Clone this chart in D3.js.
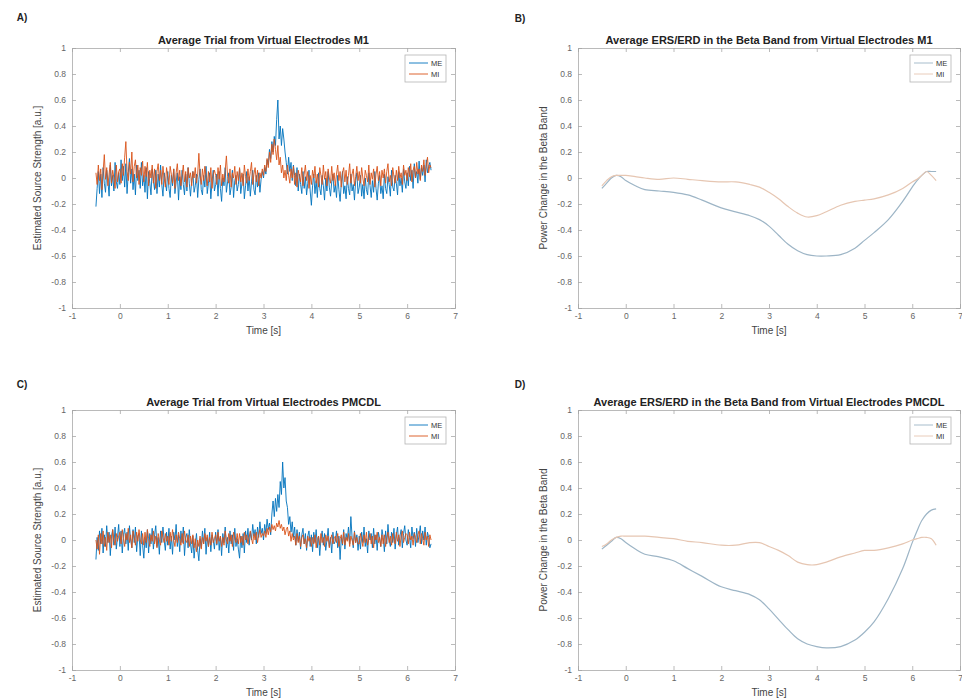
<!DOCTYPE html>
<html>
<head>
<meta charset="utf-8">
<script src="https://cdn.jsdelivr.net/npm/d3@7"></script>
<style>
  html, body { margin: 0; padding: 0; background: #fff; }
  svg { display: block; font-family: "Liberation Sans", Arial, sans-serif; }
</style>
</head>
<body>
<svg id="fig" width="962" height="698"></svg>
<script>
// Average trials (virtual electrode source strength), sampled every 25 ms from -0.5 s to 6.5 s
const trialStart = -0.5;
const trialStep = 0.025;

const m1ME = [
  -0.22,-0.08,0.05,-0.12,0.03,-0.15,0.08,-0.04,-0.11,0.06,-0.02,-0.14,0.10,-0.06,0.02,-0.10,0.12,-0.03,-0.08,0.04,
  -0.05,0.14,-0.02,0.09,-0.07,0.11,-0.12,0.04,0.15,-0.04,0.07,-0.09,0.03,-0.13,0.10,-0.02,0.06,-0.08,0.12,-0.06,
  0.02,-0.11,0.08,-0.16,0.05,-0.04,-0.13,0.07,-0.02,-0.09,0.06,-0.12,0.03,-0.07,0.10,-0.05,-0.14,0.04,-0.03,-0.10,
  0.05,-0.08,-0.15,0.02,-0.06,0.07,-0.12,-0.03,0.04,-0.17,0.01,-0.09,0.06,-0.05,-0.13,0.03,-0.10,0.08,-0.04,-0.14,
  -0.02,0.05,-0.11,-0.06,0.03,-0.15,-0.01,0.07,-0.09,-0.13,0.02,-0.07,0.09,-0.12,-0.04,0.04,-0.16,-0.03,0.06,-0.10,
  -0.05,0.03,-0.14,0.05,-0.08,-0.18,0.00,-0.06,0.08,-0.11,-0.03,0.04,-0.13,-0.07,0.06,-0.15,-0.02,0.02,-0.10,-0.05,
  0.07,-0.12,-0.04,0.03,-0.16,-0.06,0.05,-0.10,0.01,-0.14,-0.03,0.06,-0.09,-0.13,0.02,-0.07,0.04,-0.11,-0.01,0.05,
  0.00,0.08,0.03,0.14,0.10,0.22,0.15,0.28,0.20,0.32,0.25,0.45,0.60,0.30,0.40,0.25,0.38,0.30,0.20,0.12,
  0.03,0.16,0.05,0.12,-0.02,0.10,0.02,-0.06,0.08,-0.10,0.03,-0.05,-0.12,0.05,-0.08,0.01,-0.13,-0.04,0.06,-0.10,
  -0.21,-0.06,0.03,-0.12,-0.02,-0.15,0.04,-0.08,-0.13,0.02,-0.06,-0.17,0.00,-0.10,0.05,-0.07,-0.14,-0.03,0.03,-0.11,
  -0.05,-0.15,0.02,-0.09,-0.18,-0.04,0.05,-0.12,-0.06,-0.16,0.01,-0.08,-0.13,0.03,-0.10,-0.05,-0.17,-0.02,0.04,-0.12,
  -0.07,0.02,-0.14,-0.05,-0.16,0.00,-0.09,-0.13,0.04,-0.06,-0.15,-0.02,-0.11,0.05,-0.08,-0.17,-0.04,0.02,-0.12,-0.06,
  -0.16,0.03,-0.08,-0.12,0.01,-0.05,-0.14,0.06,-0.07,-0.10,0.02,-0.04,-0.13,0.05,-0.06,0.00,-0.11,0.07,-0.03,-0.08,
  0.04,-0.06,0.09,-0.02,0.06,-0.08,0.11,0.00,0.05,-0.04,0.13,-0.01,0.08,0.02,0.10,-0.03,0.14,0.04,0.09,0.12,
  0.06
];
const m1MI = [
  0.04,-0.05,0.10,-0.02,0.07,-0.09,0.05,0.18,-0.01,0.08,-0.06,0.03,0.12,-0.04,0.06,0.00,-0.08,0.10,-0.03,0.05,
  0.07,-0.04,0.11,0.02,0.16,0.28,0.05,-0.02,0.12,0.03,0.20,-0.03,0.09,0.14,0.00,0.10,-0.05,0.08,0.02,0.13,
  -0.03,0.09,0.01,0.12,-0.06,0.06,0.00,0.10,-0.04,0.07,-0.08,0.05,0.11,-0.02,0.06,-0.05,0.09,0.00,-0.07,0.08,
  0.01,-0.05,0.09,0.03,-0.04,0.07,-0.08,0.04,0.11,-0.02,0.06,-0.06,0.02,0.10,-0.03,0.05,-0.07,0.08,0.00,0.04,
  -0.06,0.05,0.00,0.08,-0.04,0.03,0.19,0.02,-0.05,0.07,-0.02,0.09,0.01,-0.06,0.05,-0.03,0.08,-0.08,0.03,0.06,
  0.02,-0.05,0.08,-0.01,0.10,-0.06,0.03,-0.03,0.06,0.17,0.01,-0.04,0.07,-0.07,0.04,0.00,0.09,-0.05,0.05,-0.02,
  0.08,-0.03,0.04,-0.06,0.10,0.01,-0.04,0.07,-0.02,0.05,0.12,-0.05,0.03,0.08,-0.03,0.06,-0.06,0.04,0.00,0.07,
  0.02,0.10,0.05,0.15,0.08,0.20,0.12,0.26,0.18,0.30,0.22,0.14,0.25,0.10,0.16,0.04,0.10,0.00,0.06,-0.02,
  0.10,0.02,-0.04,0.07,0.00,0.09,-0.05,0.04,-0.07,0.06,0.01,-0.03,0.08,-0.06,0.03,0.10,-0.02,0.05,-0.08,0.02,
  -0.05,0.06,0.00,0.09,-0.04,0.03,-0.07,0.08,0.02,-0.05,0.10,-0.01,0.05,-0.06,0.07,0.00,-0.04,0.09,-0.02,0.04,
  -0.06,0.03,0.10,-0.02,0.05,-0.07,0.04,0.08,-0.03,0.06,-0.05,0.02,0.11,-0.04,0.03,0.07,-0.06,0.01,0.09,-0.02,
  0.05,-0.04,0.08,0.00,-0.06,0.06,0.02,-0.03,0.10,-0.05,0.04,-0.01,0.07,-0.07,0.03,0.09,-0.02,0.05,-0.06,0.06,
  0.00,0.07,-0.04,0.05,0.11,-0.03,0.02,-0.06,0.08,0.01,-0.04,0.06,-0.02,0.09,0.00,0.04,-0.05,0.10,0.02,0.06,
  -0.02,0.08,0.01,0.11,-0.03,0.06,0.09,0.00,0.12,0.03,0.07,-0.02,0.10,0.05,0.14,0.02,0.09,0.16,0.04,0.10,
  0.08
];
const pmcME = [
  -0.15,0.02,-0.08,0.07,-0.03,0.09,-0.10,0.04,-0.05,0.11,-0.02,0.06,-0.12,0.03,0.08,-0.04,0.10,-0.07,0.02,0.12,
  -0.05,0.07,-0.10,0.04,0.09,-0.03,0.06,-0.08,0.11,0.00,-0.06,0.08,-0.02,0.10,-0.09,0.03,0.05,-0.12,0.07,-0.04,
  -0.14,0.02,-0.06,0.08,-0.10,0.05,-0.03,0.09,-0.07,0.04,0.11,-0.05,0.02,-0.11,0.07,-0.02,0.10,0.00,-0.08,0.06,
  -0.04,0.09,-0.07,0.03,-0.11,0.06,0.00,0.12,-0.05,0.04,-0.09,0.07,-0.02,0.10,-0.12,0.02,0.05,-0.06,0.08,-0.03,
  -0.10,0.03,-0.14,-0.04,0.05,-0.08,-0.16,0.01,-0.06,0.07,-0.03,0.09,-0.11,0.02,-0.05,0.06,-0.09,0.04,0.00,-0.07,
  0.06,-0.04,0.08,-0.08,0.03,-0.12,0.05,-0.02,0.10,-0.06,0.02,-0.10,0.07,-0.03,0.04,-0.08,0.09,-0.05,0.01,-0.07,
  -0.14,0.03,-0.06,0.05,-0.10,0.07,-0.02,0.09,-0.04,0.06,0.00,0.12,0.03,0.08,-0.03,0.10,0.02,0.14,0.05,0.09,
  0.00,0.12,0.05,0.16,0.08,0.13,0.04,0.20,0.30,0.18,0.32,0.22,0.35,0.25,0.45,0.35,0.60,0.40,0.48,0.30,
  0.25,0.12,0.18,0.06,0.14,0.02,0.10,-0.04,0.08,-0.01,0.06,-0.07,0.04,0.09,-0.03,0.05,-0.08,0.03,0.07,-0.05,
  0.04,-0.09,0.06,-0.02,0.08,-0.06,0.03,-0.12,0.01,0.07,-0.04,0.05,-0.08,0.00,0.09,-0.05,0.02,-0.10,0.06,-0.03,
  -0.01,0.07,-0.06,0.03,-0.15,0.02,-0.04,0.08,-0.07,0.05,0.00,0.10,-0.03,0.18,0.02,-0.06,0.07,-0.02,0.04,-0.08,
  0.03,-0.07,0.06,-0.02,0.10,-0.05,0.01,-0.10,0.07,0.00,0.05,-0.06,0.09,-0.03,0.04,-0.08,0.06,0.01,-0.05,0.08,
  0.02,-0.09,0.07,-0.03,0.12,0.00,-0.05,0.06,-0.02,0.09,-0.07,0.04,0.10,-0.04,0.03,0.08,-0.06,0.05,0.11,0.00,
  -0.04,0.08,0.02,-0.06,0.10,0.01,0.06,-0.05,0.09,-0.02,0.04,0.11,-0.03,0.07,0.00,0.10,-0.04,0.06,0.02,-0.06,
  -0.03
];
const pmcMI = [
  0.00,-0.07,0.04,-0.11,0.05,-0.03,0.07,-0.05,0.02,-0.08,0.06,-0.02,0.04,-0.06,0.08,0.00,-0.04,0.05,-0.01,0.03,
  0.06,-0.03,0.08,0.01,-0.05,0.05,0.00,0.09,-0.02,0.04,-0.06,0.07,0.02,-0.04,0.06,-0.01,0.08,0.00,-0.03,0.05,
  -0.04,0.06,-0.02,0.08,0.01,-0.05,0.04,-0.01,0.07,-0.03,0.03,-0.06,0.05,0.00,-0.04,0.07,0.02,-0.02,0.05,-0.01,
  0.03,-0.04,0.06,-0.01,0.08,0.00,-0.05,0.04,-0.02,0.06,0.01,-0.04,0.05,-0.03,0.07,0.00,-0.02,0.04,-0.05,0.03,
  -0.03,0.04,-0.06,0.01,-0.09,0.00,-0.05,0.03,-0.07,0.02,-0.03,0.05,-0.01,0.04,-0.05,0.02,-0.04,0.06,-0.02,0.01,
  0.04,-0.03,0.06,-0.01,0.03,-0.05,0.02,-0.04,0.07,0.00,-0.03,0.05,-0.01,0.04,-0.05,0.06,0.01,-0.02,0.05,-0.03,
  0.05,-0.02,0.03,-0.04,0.06,0.00,0.04,-0.03,0.02,0.07,0.01,-0.03,0.05,0.00,0.06,-0.02,0.04,0.08,0.02,0.05,
  0.03,0.07,0.02,0.09,0.04,0.10,0.06,0.12,0.08,0.11,0.07,0.13,0.10,0.15,0.09,0.12,0.07,0.10,0.04,0.08,
  0.10,0.03,0.07,-0.01,0.05,0.00,0.03,-0.04,0.05,-0.02,0.03,-0.05,0.02,0.04,-0.03,0.01,-0.06,0.03,-0.01,0.02,
  -0.05,0.02,-0.03,0.04,-0.06,0.01,0.03,-0.04,0.05,-0.02,0.02,-0.05,0.04,-0.01,0.03,-0.06,0.00,0.04,-0.03,0.01,
  0.03,-0.02,0.05,-0.05,0.01,0.04,-0.03,0.06,-0.04,0.02,-0.01,0.05,-0.05,0.03,0.00,-0.04,0.06,-0.02,0.02,-0.03,
  -0.03,0.05,0.00,-0.05,0.04,-0.02,0.06,-0.04,0.01,0.05,-0.03,0.03,-0.06,0.04,0.00,0.06,-0.02,0.02,-0.05,0.04,
  -0.03,0.04,-0.05,0.02,0.06,-0.02,0.03,-0.04,0.05,0.00,-0.03,0.06,-0.01,0.04,-0.05,0.03,0.07,-0.02,0.02,0.05,
  0.04,-0.03,0.06,0.00,0.03,-0.04,0.05,0.02,-0.02,0.04,0.07,-0.03,0.05,0.01,-0.04,0.06,0.00,0.03,-0.05,0.04,
  0.00
];

// Beta-band ERS/ERD envelopes (relative power change)
const betaTime = [-0.5, -0.4, -0.3, -0.2, -0.1, 0, 0.2, 0.4, 0.7, 1, 1.3, 1.6, 2, 2.3, 2.6, 2.8, 3, 3.2, 3.4, 3.6, 3.8, 4, 4.2, 4.5, 4.8, 5, 5.2, 5.5, 5.8, 6, 6.1, 6.2, 6.3, 6.4, 6.5];
const betaM1ME = [-0.08, -0.04, 0.00, 0.02, 0.01, -0.02, -0.06, -0.09, -0.10, -0.11, -0.13, -0.17, -0.23, -0.26, -0.29, -0.32, -0.37, -0.44, -0.51, -0.56, -0.59, -0.60, -0.60, -0.59, -0.54, -0.48, -0.42, -0.32, -0.18, -0.07, -0.02, 0.02, 0.05, 0.05, 0.05];
const betaM1MI = [-0.06, -0.02, 0.01, 0.02, 0.02, 0.02, 0.01, 0.00, -0.01, 0.00, -0.01, -0.02, -0.03, -0.03, -0.05, -0.07, -0.11, -0.16, -0.22, -0.27, -0.30, -0.29, -0.26, -0.21, -0.18, -0.17, -0.16, -0.13, -0.08, -0.03, -0.01, 0.02, 0.05, 0.02, -0.02];
const betaPmcME = [-0.07, -0.04, -0.01, 0.02, 0.01, -0.02, -0.07, -0.11, -0.13, -0.16, -0.22, -0.28, -0.36, -0.39, -0.42, -0.46, -0.53, -0.61, -0.69, -0.76, -0.80, -0.82, -0.83, -0.82, -0.77, -0.71, -0.63, -0.45, -0.22, -0.02, 0.07, 0.15, 0.20, 0.23, 0.24];
const betaPmcMI = [-0.05, -0.03, 0.00, 0.02, 0.03, 0.03, 0.03, 0.03, 0.02, 0.01, -0.01, -0.02, -0.04, -0.04, -0.02, -0.02, -0.05, -0.08, -0.12, -0.17, -0.19, -0.19, -0.17, -0.13, -0.10, -0.08, -0.08, -0.06, -0.03, 0.00, 0.01, 0.02, 0.02, 0.01, -0.04];

const seriesNames = ["ME", "MI"];
const xTicks = [-1, 0, 1, 2, 3, 4, 5, 6, 7];
const yTicks = [-1, -0.8, -0.6, -0.4, -0.2, 0, 0.2, 0.4, 0.6, 0.8, 1];

const trialTime = m1ME.map((_, i) => trialStart + i * trialStep);

const svg = d3.select("#fig");
const rawColors = ["#0072BD", "#D95319"];
const betaColors = ["#9db5c6", "#e6c6b2"];

const panels = [
  { tag: "A)", tagPos: [22, 21], title: "Average Trial from Virtual Electrodes M1",
    ylabel: "Estimated Source Strength [a.u.]", box: [72, 48, 455, 308],
    time: [trialTime, trialTime], series: [m1ME, m1MI], smooth: false },
  { tag: "B)", tagPos: [520, 22], title: "Average ERS/ERD in the Beta Band from Virtual Electrodes M1",
    ylabel: "Power Change in the Beta Band", box: [578, 48, 960, 308],
    time: [betaTime, betaTime], series: [betaM1ME, betaM1MI], smooth: true },
  { tag: "C)", tagPos: [22, 388], title: "Average Trial from Virtual Electrodes PMCDL",
    ylabel: "Estimated Source Strength [a.u.]", box: [72, 410, 455, 670],
    time: [trialTime, trialTime], series: [pmcME, pmcMI], smooth: false },
  { tag: "D)", tagPos: [520, 388], title: "Average ERS/ERD in the Beta Band from Virtual Electrodes PMCDL",
    ylabel: "Power Change in the Beta Band", box: [578, 410, 960, 670],
    time: [betaTime, betaTime], series: [betaPmcME, betaPmcMI], smooth: true }
];

const fmt = v => (Math.abs(v) < 1e-9 ? "0" : String(+v.toFixed(1)));

panels.forEach(p => {
  const [x0, y0, x1, y1] = p.box;
  const x = d3.scaleLinear().domain([-1, 7]).range([x0, x1]);
  const y = d3.scaleLinear().domain([-1, 1]).range([y1, y0]);
  const g = svg.append("g");

  // panel letter
  svg.append("text").attr("x", p.tagPos[0]).attr("y", p.tagPos[1])
    .attr("font-size", 10).attr("font-weight", "bold").attr("fill", "#222")
    .attr("text-anchor", "middle").text(p.tag);

  // traces
  const line = d3.line()
    .x(d => x(d[0])).y(d => y(d[1]))
    .curve(p.smooth ? d3.curveCatmullRom.alpha(0.5) : d3.curveLinear);
  const traceColors = p.smooth ? betaColors : rawColors;
  p.series.forEach((vals, k) => {
    const pts = vals.map((v, i) => [p.time[k][i], v]);
    g.append("path").datum(pts)
      .attr("d", line).attr("fill", "none")
      .attr("stroke", traceColors[k])
      .attr("stroke-width", p.smooth ? 1.2 : 1.0)
      .attr("stroke-linejoin", "round")
      .attr("opacity", p.smooth ? 1 : 0.9);
  });

  // axes (box with inward ticks on all sides)
  const axisColor = "#a8a8a8";
  const tickLen = 4;
  const axB = d3.axisBottom(x).tickValues(xTicks).tickSize(-tickLen).tickPadding(5).tickFormat(fmt);
  const axT = d3.axisTop(x).tickValues(xTicks).tickSize(-tickLen).tickFormat("");
  const axL = d3.axisLeft(y).tickValues(yTicks).tickSize(-tickLen).tickPadding(6).tickFormat(fmt);
  const axR = d3.axisRight(y).tickValues(yTicks).tickSize(-tickLen).tickFormat("");

  const gb = g.append("g").attr("transform", `translate(0,${y1})`).call(axB);
  const gt = g.append("g").attr("transform", `translate(0,${y0})`).call(axT);
  const gl = g.append("g").attr("transform", `translate(${x0},0)`).call(axL);
  const gr = g.append("g").attr("transform", `translate(${x1},0)`).call(axR);
  [gb, gt, gl, gr].forEach(a => {
    a.select(".domain").attr("stroke", axisColor).attr("stroke-width", 0.8);
    a.selectAll(".tick line").attr("stroke", axisColor).attr("stroke-width", 0.8);
    a.selectAll(".tick text").attr("fill", "#666").attr("font-size", 8.5)
      .attr("font-family", "Liberation Sans, Arial, sans-serif");
  });

  // title
  svg.append("text").attr("x", (x0 + x1) / 2).attr("y", y0 - 4)
    .attr("text-anchor", "middle").attr("font-size", 11).attr("font-weight", "bold")
    .attr("fill", "#222").text(p.title);

  // axis labels
  svg.append("text").attr("x", (x0 + x1) / 2).attr("y", y1 + 26)
    .attr("text-anchor", "middle").attr("font-size", 10).attr("fill", "#444").text("Time [s]");
  svg.append("text")
    .attr("transform", `translate(${x0 - 31},${(y0 + y1) / 2}) rotate(-90)`)
    .attr("text-anchor", "middle").attr("font-size", 10).attr("fill", "#444").text(p.ylabel);

  // legend
  const lw = 41, lh = 27;
  const lx = x1 - 9 - lw, ly = y0 + 7;
  const lg = svg.append("g").attr("transform", `translate(${lx},${ly})`);
  lg.append("rect").attr("width", lw).attr("height", lh)
    .attr("fill", "#fff").attr("stroke", "#b5b5b5").attr("stroke-width", 0.8);
  seriesNames.forEach((name, k) => {
    const yy = 8 + k * 11;
    lg.append("line").attr("x1", 4).attr("x2", 23).attr("y1", yy).attr("y2", yy)
      .attr("stroke", traceColors[k]).attr("stroke-width", 0.9);
    lg.append("text").attr("x", 26).attr("y", yy + 3)
      .attr("font-size", 7.5).attr("fill", "#333").text(name);
  });
});
</script>
</body>
</html>
